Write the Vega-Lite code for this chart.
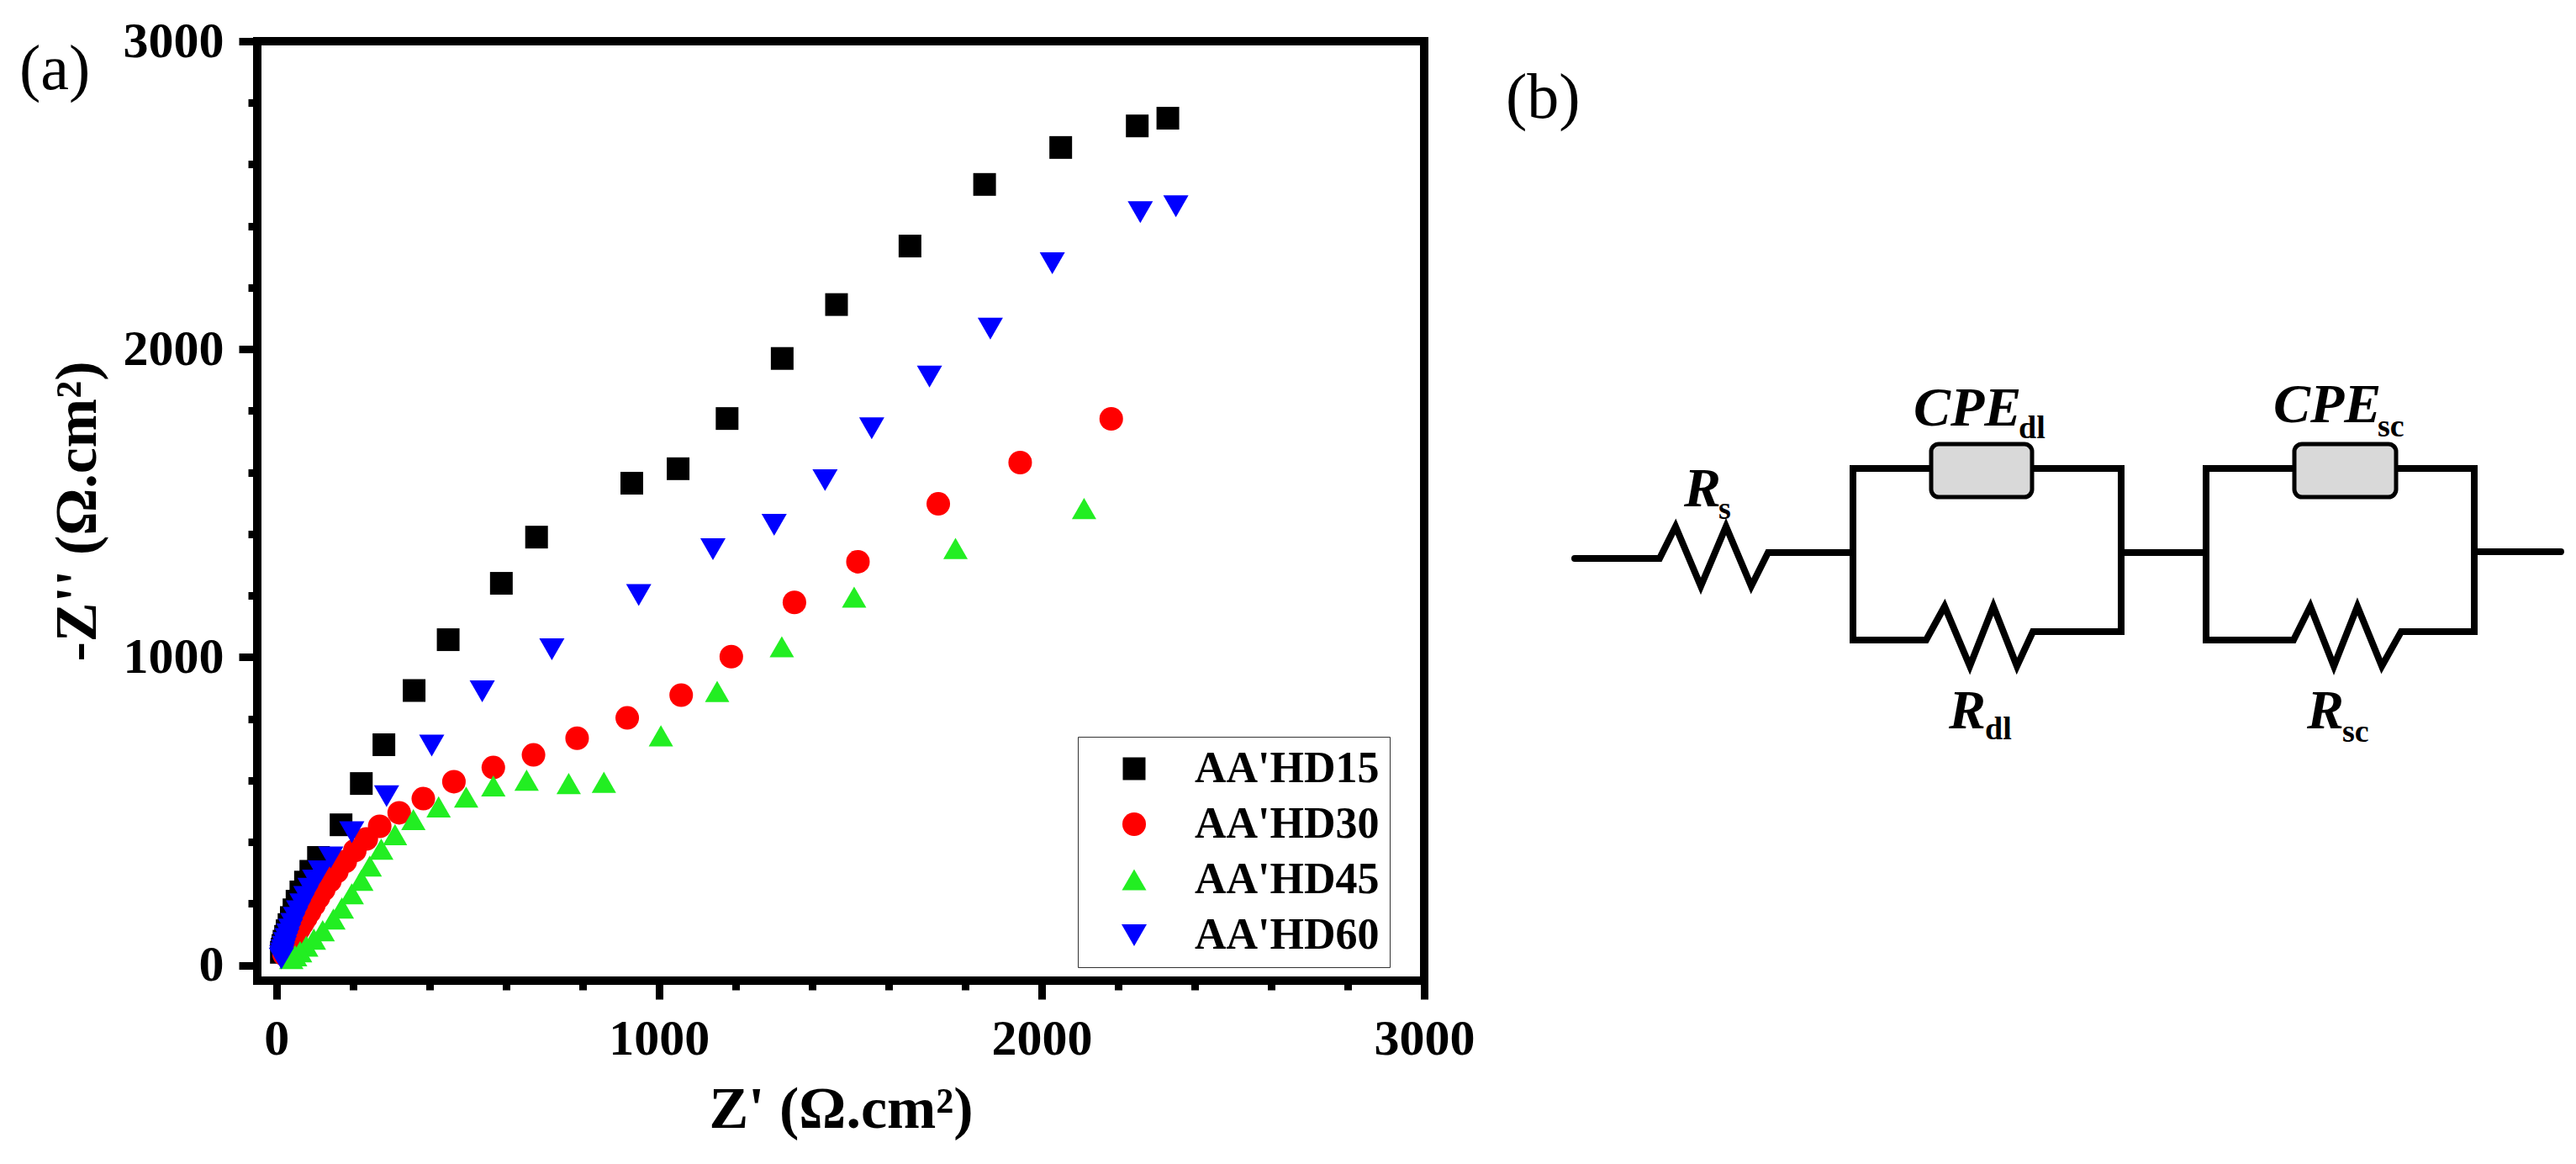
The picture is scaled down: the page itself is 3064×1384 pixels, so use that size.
{
  "$schema": "https://vega.github.io/schema/vega-lite/v6.json",
  "background": "white",
  "padding": {"left": 17, "top": 14, "right": 0, "bottom": 0},
  "autosize": {"type": "pad"},
  "bounds": "flush",
  "spacing": 72,
  "config": {"view": {"stroke": null}, "font": "Liberation Serif"},
  "datasets": {
    "nyquist": [
      {"series": "AA'HD15", "zr": 2330, "zi": 2750},
      {"series": "AA'HD15", "zr": 2250, "zi": 2725},
      {"series": "AA'HD15", "zr": 2050, "zi": 2655},
      {"series": "AA'HD15", "zr": 1851, "zi": 2535},
      {"series": "AA'HD15", "zr": 1656, "zi": 2335},
      {"series": "AA'HD15", "zr": 1464, "zi": 2145},
      {"series": "AA'HD15", "zr": 1322, "zi": 1970},
      {"series": "AA'HD15", "zr": 1178, "zi": 1775},
      {"series": "AA'HD15", "zr": 1050, "zi": 1612},
      {"series": "AA'HD15", "zr": 929, "zi": 1565},
      {"series": "AA'HD15", "zr": 680, "zi": 1390},
      {"series": "AA'HD15", "zr": 588, "zi": 1240},
      {"series": "AA'HD15", "zr": 449, "zi": 1057},
      {"series": "AA'HD15", "zr": 360, "zi": 892},
      {"series": "AA'HD15", "zr": 281, "zi": 716},
      {"series": "AA'HD15", "zr": 222, "zi": 590},
      {"series": "AA'HD15", "zr": 169, "zi": 456},
      {"series": "AA'HD15", "zr": 110, "zi": 350},
      {"series": "AA'HD15", "zr": 90, "zi": 305},
      {"series": "AA'HD15", "zr": 76, "zi": 270},
      {"series": "AA'HD15", "zr": 64, "zi": 238},
      {"series": "AA'HD15", "zr": 54, "zi": 208},
      {"series": "AA'HD15", "zr": 46, "zi": 180},
      {"series": "AA'HD15", "zr": 39, "zi": 155},
      {"series": "AA'HD15", "zr": 33, "zi": 132},
      {"series": "AA'HD15", "zr": 28, "zi": 112},
      {"series": "AA'HD15", "zr": 24, "zi": 94},
      {"series": "AA'HD15", "zr": 20, "zi": 78},
      {"series": "AA'HD15", "zr": 17, "zi": 64},
      {"series": "AA'HD15", "zr": 15, "zi": 52},
      {"series": "AA'HD15", "zr": 13, "zi": 42},
      {"series": "AA'HD30", "zr": 2182, "zi": 1774},
      {"series": "AA'HD30", "zr": 1944, "zi": 1632},
      {"series": "AA'HD30", "zr": 1730, "zi": 1498},
      {"series": "AA'HD30", "zr": 1520, "zi": 1310},
      {"series": "AA'HD30", "zr": 1354, "zi": 1178},
      {"series": "AA'HD30", "zr": 1189, "zi": 1002},
      {"series": "AA'HD30", "zr": 1058, "zi": 877},
      {"series": "AA'HD30", "zr": 917, "zi": 803},
      {"series": "AA'HD30", "zr": 786, "zi": 737},
      {"series": "AA'HD30", "zr": 672, "zi": 683},
      {"series": "AA'HD30", "zr": 567, "zi": 642},
      {"series": "AA'HD30", "zr": 464, "zi": 596},
      {"series": "AA'HD30", "zr": 384, "zi": 541},
      {"series": "AA'HD30", "zr": 321, "zi": 495},
      {"series": "AA'HD30", "zr": 270, "zi": 451},
      {"series": "AA'HD30", "zr": 235, "zi": 410},
      {"series": "AA'HD30", "zr": 205, "zi": 372},
      {"series": "AA'HD30", "zr": 180, "zi": 337},
      {"series": "AA'HD30", "zr": 158, "zi": 304},
      {"series": "AA'HD30", "zr": 140, "zi": 274},
      {"series": "AA'HD30", "zr": 124, "zi": 246},
      {"series": "AA'HD30", "zr": 110, "zi": 220},
      {"series": "AA'HD30", "zr": 98, "zi": 196},
      {"series": "AA'HD30", "zr": 87, "zi": 174},
      {"series": "AA'HD30", "zr": 77, "zi": 154},
      {"series": "AA'HD30", "zr": 68, "zi": 136},
      {"series": "AA'HD30", "zr": 60, "zi": 120},
      {"series": "AA'HD30", "zr": 53, "zi": 105},
      {"series": "AA'HD30", "zr": 47, "zi": 92},
      {"series": "AA'HD30", "zr": 41, "zi": 80},
      {"series": "AA'HD30", "zr": 36, "zi": 69},
      {"series": "AA'HD30", "zr": 31, "zi": 59},
      {"series": "AA'HD30", "zr": 27, "zi": 50},
      {"series": "AA'HD30", "zr": 23, "zi": 42},
      {"series": "AA'HD30", "zr": 20, "zi": 35},
      {"series": "AA'HD45", "zr": 2111, "zi": 1483},
      {"series": "AA'HD45", "zr": 1775, "zi": 1353},
      {"series": "AA'HD45", "zr": 1510, "zi": 1195},
      {"series": "AA'HD45", "zr": 1321, "zi": 1034},
      {"series": "AA'HD45", "zr": 1152, "zi": 889},
      {"series": "AA'HD45", "zr": 1005, "zi": 745},
      {"series": "AA'HD45", "zr": 856, "zi": 594},
      {"series": "AA'HD45", "zr": 764, "zi": 590},
      {"series": "AA'HD45", "zr": 654, "zi": 601},
      {"series": "AA'HD45", "zr": 567, "zi": 582},
      {"series": "AA'HD45", "zr": 496, "zi": 546},
      {"series": "AA'HD45", "zr": 424, "zi": 514},
      {"series": "AA'HD45", "zr": 358, "zi": 473},
      {"series": "AA'HD45", "zr": 310, "zi": 424},
      {"series": "AA'HD45", "zr": 274, "zi": 377},
      {"series": "AA'HD45", "zr": 244, "zi": 322},
      {"series": "AA'HD45", "zr": 222, "zi": 276},
      {"series": "AA'HD45", "zr": 197, "zi": 232},
      {"series": "AA'HD45", "zr": 171, "zi": 186},
      {"series": "AA'HD45", "zr": 149, "zi": 150},
      {"series": "AA'HD45", "zr": 121, "zi": 112},
      {"series": "AA'HD45", "zr": 98, "zi": 85},
      {"series": "AA'HD45", "zr": 78, "zi": 62},
      {"series": "AA'HD45", "zr": 62, "zi": 44},
      {"series": "AA'HD45", "zr": 49, "zi": 31},
      {"series": "AA'HD45", "zr": 39, "zi": 22},
      {"series": "AA'HD60", "zr": 2351, "zi": 2464},
      {"series": "AA'HD60", "zr": 2258, "zi": 2445},
      {"series": "AA'HD60", "zr": 2028, "zi": 2279},
      {"series": "AA'HD60", "zr": 1866, "zi": 2067},
      {"series": "AA'HD60", "zr": 1707, "zi": 1911},
      {"series": "AA'HD60", "zr": 1556, "zi": 1743},
      {"series": "AA'HD60", "zr": 1434, "zi": 1575},
      {"series": "AA'HD60", "zr": 1301, "zi": 1430},
      {"series": "AA'HD60", "zr": 1141, "zi": 1351},
      {"series": "AA'HD60", "zr": 947, "zi": 1202},
      {"series": "AA'HD60", "zr": 720, "zi": 1026},
      {"series": "AA'HD60", "zr": 538, "zi": 889},
      {"series": "AA'HD60", "zr": 406, "zi": 713},
      {"series": "AA'HD60", "zr": 288, "zi": 549},
      {"series": "AA'HD60", "zr": 197, "zi": 432},
      {"series": "AA'HD60", "zr": 142, "zi": 350},
      {"series": "AA'HD60", "zr": 115, "zi": 305},
      {"series": "AA'HD60", "zr": 100, "zi": 275},
      {"series": "AA'HD60", "zr": 88, "zi": 248},
      {"series": "AA'HD60", "zr": 77, "zi": 222},
      {"series": "AA'HD60", "zr": 67, "zi": 198},
      {"series": "AA'HD60", "zr": 58, "zi": 175},
      {"series": "AA'HD60", "zr": 50, "zi": 154},
      {"series": "AA'HD60", "zr": 43, "zi": 134},
      {"series": "AA'HD60", "zr": 37, "zi": 116},
      {"series": "AA'HD60", "zr": 32, "zi": 100},
      {"series": "AA'HD60", "zr": 28, "zi": 85},
      {"series": "AA'HD60", "zr": 24, "zi": 72},
      {"series": "AA'HD60", "zr": 21, "zi": 60},
      {"series": "AA'HD60", "zr": 18, "zi": 49},
      {"series": "AA'HD60", "zr": 16, "zi": 39},
      {"series": "AA'HD60", "zr": 14, "zi": 30},
      {"series": "AA'HD60", "zr": 13, "zi": 22}
    ],
    "panelA": [{"lab": "(a)", "zr": -672, "zi": 2844}],
    "wires": [
      {"seg": "A", "ord": 1, "cx": 10.7, "cy": 50.2},
      {"seg": "A", "ord": 2, "cx": 20.8, "cy": 50.2},
      {"seg": "A", "ord": 3, "cx": 22.7, "cy": 54.0},
      {"seg": "A", "ord": 4, "cx": 25.7, "cy": 46.9},
      {"seg": "A", "ord": 5, "cx": 28.7, "cy": 54.0},
      {"seg": "A", "ord": 6, "cx": 31.7, "cy": 46.9},
      {"seg": "A", "ord": 7, "cx": 33.7, "cy": 50.9},
      {"seg": "A", "ord": 8, "cx": 43.8, "cy": 50.9},
      {"seg": "B", "ord": 1, "cx": 53.1, "cy": 60.9},
      {"seg": "B", "ord": 2, "cx": 43.8, "cy": 60.9},
      {"seg": "B", "ord": 3, "cx": 43.8, "cy": 40.5},
      {"seg": "B", "ord": 4, "cx": 52.5, "cy": 40.5},
      {"seg": "B", "ord": 5, "cx": 54.7, "cy": 44.5},
      {"seg": "B", "ord": 6, "cx": 57.7, "cy": 37.4},
      {"seg": "B", "ord": 7, "cx": 60.5, "cy": 44.5},
      {"seg": "B", "ord": 8, "cx": 63.3, "cy": 37.4},
      {"seg": "B", "ord": 9, "cx": 65.2, "cy": 41.5},
      {"seg": "B", "ord": 10, "cx": 75.7, "cy": 41.5},
      {"seg": "B", "ord": 11, "cx": 75.7, "cy": 60.9},
      {"seg": "B", "ord": 12, "cx": 65.1, "cy": 60.9},
      {"seg": "C", "ord": 1, "cx": 75.7, "cy": 50.9},
      {"seg": "C", "ord": 2, "cx": 85.8, "cy": 50.9},
      {"seg": "D", "ord": 1, "cx": 96.3, "cy": 60.9},
      {"seg": "D", "ord": 2, "cx": 85.8, "cy": 60.9},
      {"seg": "D", "ord": 3, "cx": 85.8, "cy": 40.5},
      {"seg": "D", "ord": 4, "cx": 96.2, "cy": 40.5},
      {"seg": "D", "ord": 5, "cx": 98.2, "cy": 44.5},
      {"seg": "D", "ord": 6, "cx": 101.0, "cy": 37.4},
      {"seg": "D", "ord": 7, "cx": 103.8, "cy": 44.5},
      {"seg": "D", "ord": 8, "cx": 106.7, "cy": 37.4},
      {"seg": "D", "ord": 9, "cx": 109.0, "cy": 41.5},
      {"seg": "D", "ord": 10, "cx": 117.7, "cy": 41.5},
      {"seg": "D", "ord": 11, "cx": 117.7, "cy": 60.9},
      {"seg": "D", "ord": 12, "cx": 108.4, "cy": 60.9},
      {"seg": "E", "ord": 1, "cx": 117.7, "cy": 51.0},
      {"seg": "E", "ord": 2, "cx": 128.0, "cy": 51.0}
    ],
    "cpe": [
      {"name": "CPEdl", "cx": 53.1, "cx2": 65.1, "cy": 63.8, "cy2": 57.5},
      {"name": "CPEsc", "cx": 96.3, "cx2": 108.4, "cy": 63.8, "cy2": 57.5}
    ],
    "symbols": [
      {"t": "R", "cx": 23.7, "cy": 56.4},
      {"t": "CPE", "cx": 51.0, "cy": 66.0},
      {"t": "R", "cx": 55.2, "cy": 30.0},
      {"t": "CPE", "cx": 93.8, "cy": 66.4},
      {"t": "R", "cx": 97.8, "cy": 30.0}
    ],
    "subscripts": [
      {"t": "s", "cx": 27.8, "cy": 54.9},
      {"t": "dl", "cx": 63.5, "cy": 64.5},
      {"t": "dl", "cx": 59.5, "cy": 28.7},
      {"t": "sc", "cx": 106.2, "cy": 64.7},
      {"t": "sc", "cx": 102.0, "cy": 28.4}
    ],
    "panelB": [{"t": "(b)", "cx": 2.5, "cy": 102.6}]
  },
  "hconcat": [
    {
      "width": 1388,
      "height": 1117,
      "view": {"stroke": "black", "strokeWidth": 10},
      "encoding": {
        "x": {
          "field": "zr",
          "type": "quantitative",
          "scale": {"domain": [-50, 3000], "nice": false, "zero": false},
          "axis": {
            "title": "Z' (Ω.cm²)",
            "values": [0, 200, 400, 600, 800, 1000, 1200, 1400, 1600, 1800, 2000, 2200, 2400, 2600, 2800, 3000],
            "format": "d",
            "labelExpr": "datum.value % 1000 === 0 ? datum.label : ''",
            "labelFont": "Liberation Serif",
            "labelFontSize": 60,
            "labelFontWeight": "bold",
            "labelColor": "black",
            "labelPadding": 18,
            "labelOverlap": false,
            "labelFlush": false,
            "labelAngle": 0,
            "domain": false,
            "grid": false,
            "tickColor": "black",
            "tickWidth": 9,
            "tickSize": {"condition": {"test": "datum.value % 1000 === 0", "value": 22}, "value": 11},
            "titleFont": "Liberation Serif",
            "titleFontSize": 70,
            "titleFontWeight": "bold",
            "titleColor": "black",
            "titlePadding": 20
          }
        },
        "y": {
          "field": "zi",
          "type": "quantitative",
          "scale": {"domain": [-50, 3000], "nice": false, "zero": false},
          "axis": {
            "title": "-Z'' (Ω.cm²)",
            "values": [0, 200, 400, 600, 800, 1000, 1200, 1400, 1600, 1800, 2000, 2200, 2400, 2600, 2800, 3000],
            "format": "d",
            "labelExpr": "datum.value % 1000 === 0 ? datum.label : ''",
            "labelFont": "Liberation Serif",
            "labelFontSize": 60,
            "labelFontWeight": "bold",
            "labelColor": "black",
            "labelPadding": 18,
            "labelOverlap": false,
            "labelFlush": false,
            "domain": false,
            "grid": false,
            "tickColor": "black",
            "tickWidth": 9,
            "tickSize": {"condition": {"test": "datum.value % 1000 === 0", "value": 22}, "value": 11},
            "titleFont": "Liberation Serif",
            "titleFontSize": 70,
            "titleFontWeight": "bold",
            "titleColor": "black",
            "titlePadding": 18
          }
        }
      },
      "layer": [
        {
          "data": {"name": "nyquist"},
          "mark": {"type": "point", "filled": true, "opacity": 1, "strokeWidth": 0},
          "encoding": {
            "color": {
              "field": "series",
              "type": "nominal",
              "scale": {"domain": ["AA'HD15", "AA'HD30", "AA'HD45", "AA'HD60"], "range": ["#000000", "#ff0000", "#22ee22", "#0000ff"]},
              "legend": {"title": null, "orient": "none", "legendX": 976, "legendY": 827, "direction": "vertical", "padding": 12, "strokeColor": "#333333", "fillColor": "white", "labelFont": "Liberation Serif", "labelFontWeight": "bold", "labelFontSize": 52, "labelColor": "black", "labelOffset": 46, "symbolOffset": 29, "rowPadding": 14, "symbolStrokeWidth": 0, "symbolOpacity": 1, "labelLimit": 400}
            },
            "shape": {
              "field": "series",
              "type": "nominal",
              "scale": {"domain": ["AA'HD15", "AA'HD30", "AA'HD45", "AA'HD60"], "range": ["square", "circle", "triangle-up", "triangle-down"]},
              "legend": {"title": null, "orient": "none", "legendX": 976, "legendY": 827, "direction": "vertical", "padding": 12, "strokeColor": "#333333", "fillColor": "white", "labelFont": "Liberation Serif", "labelFontWeight": "bold", "labelFontSize": 52, "labelColor": "black", "labelOffset": 46, "symbolOffset": 29, "rowPadding": 14, "symbolStrokeWidth": 0, "symbolOpacity": 1, "labelLimit": 400}
            },
            "size": {
              "field": "series",
              "type": "nominal",
              "scale": {"domain": ["AA'HD15", "AA'HD30", "AA'HD45", "AA'HD60"], "range": [729, 900, 1225, 1225]},
              "legend": {"title": null, "orient": "none", "legendX": 976, "legendY": 827, "direction": "vertical", "padding": 12, "strokeColor": "#333333", "fillColor": "white", "labelFont": "Liberation Serif", "labelFontWeight": "bold", "labelFontSize": 52, "labelColor": "black", "labelOffset": 46, "symbolOffset": 29, "rowPadding": 14, "symbolStrokeWidth": 0, "symbolOpacity": 1, "labelLimit": 400}
            }
          }
        },
        {
          "data": {"name": "panelA"},
          "mark": {"type": "text", "font": "Liberation Serif", "fontSize": 76, "align": "left", "baseline": "alphabetic", "color": "black"},
          "encoding": {"text": {"field": "lab"}}
        }
      ]
    },
    {
      "width": 1300,
      "height": 1117,
      "encoding": {
        "x": {"field": "cx", "type": "quantitative", "scale": {"domain": [0, 130], "nice": false, "zero": false}, "axis": null},
        "y": {"field": "cy", "type": "quantitative", "scale": {"domain": [0, 111.7], "nice": false, "zero": false}, "axis": null}
      },
      "layer": [
        {
          "data": {"name": "wires"},
          "mark": {"type": "line", "color": "black", "strokeWidth": 8, "strokeCap": "round", "strokeJoin": "miter"},
          "encoding": {"detail": {"field": "seg"}, "order": {"field": "ord"}}
        },
        {
          "data": {"name": "cpe"},
          "mark": {"type": "rect", "fill": "#d9d9d9", "stroke": "black", "strokeWidth": 5, "cornerRadius": 9},
          "encoding": {"x2": {"field": "cx2"}, "y2": {"field": "cy2"}}
        },
        {
          "data": {"name": "symbols"},
          "mark": {"type": "text", "font": "Liberation Serif", "fontSize": 66, "fontStyle": "italic", "fontWeight": "bold", "align": "left", "baseline": "alphabetic", "color": "black"},
          "encoding": {"text": {"field": "t"}}
        },
        {
          "data": {"name": "subscripts"},
          "mark": {"type": "text", "font": "Liberation Serif", "fontSize": 38, "fontWeight": "bold", "align": "left", "baseline": "alphabetic", "color": "black"},
          "encoding": {"text": {"field": "t"}}
        },
        {
          "data": {"name": "panelB"},
          "mark": {"type": "text", "font": "Liberation Serif", "fontSize": 76, "align": "left", "baseline": "alphabetic", "color": "black"},
          "encoding": {"text": {"field": "t"}}
        }
      ]
    }
  ]
}
